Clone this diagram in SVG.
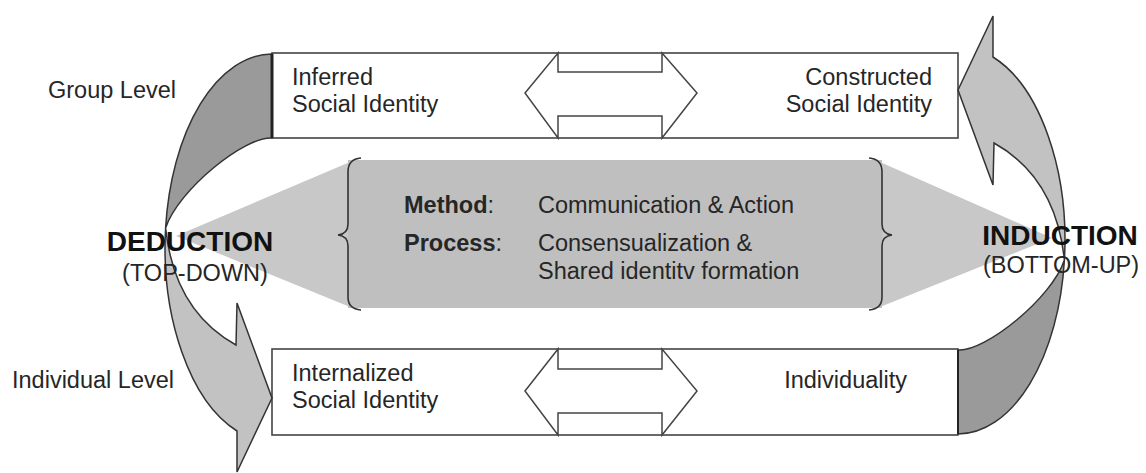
<svg xmlns="http://www.w3.org/2000/svg" width="1146" height="473" viewBox="0 0 1146 473">
<style>
text{font-family:"Liberation Sans",Arial,sans-serif;fill:#262626;font-size:23.5px}
.b{font-weight:bold}
.big{font-weight:bold;font-size:28px;fill:#111}
.box{fill:#fff;stroke:#444;stroke-width:1.6}
.dark{fill:#9a9a9a;stroke:#333;stroke-width:1.5}
.light{fill:#c2c2c2;stroke:#333;stroke-width:1.5}
.dbl{fill:#fff;stroke:#444;stroke-width:1.5;stroke-linejoin:miter}
.tri{fill:#c8c8c8}
.brace{fill:none;stroke:#333;stroke-width:1.6}
</style>
<rect width="1146" height="473" fill="#fff"/>
<g id="process-panel">
<polygon class="tri" points="176,236 350,162 350,307"/>
<polygon class="tri" points="880,162 1052,238 880,307"/>
<rect x="348" y="160" width="534" height="148" fill="#bfbfbf"/>
<path class="brace" d="M361,158 Q348,159 348,172 L348,224 Q348,234 338,235 Q348,236 348,246 L348,297 Q348,309 361,310"/>
<path class="brace" d="M869,158 Q882,159 882,172 L882,224 Q882,234 892,235 Q882,236 882,246 L882,297 Q882,309 869,310"/>
<text class="b" x="404" y="213">Method<tspan font-weight="normal">:</tspan></text>
<text x="538" y="213">Communication &amp; Action</text>
<text class="b" x="404" y="251">Process<tspan font-weight="normal">:</tspan></text>
<text x="538" y="251">Consensualization &amp;</text>
<text x="538" y="279">Shared identitv formation</text>
</g>
<g id="group-level-box">
<rect class="box" x="272" y="53" width="686" height="85"/>
<text x="292" y="85">Inferred</text>
<text x="292" y="112">Social Identity</text>
<text x="932" y="85" text-anchor="end">Constructed</text>
<text x="932" y="112" text-anchor="end">Social Identity</text>
</g>
<g id="individual-level-box">
<rect class="box" x="272" y="349" width="686" height="86"/>
<text x="292" y="381">Internalized</text>
<text x="292" y="408">Social Identity</text>
<text x="907" y="388" text-anchor="end">Individuality</text>
</g>
<g id="connectors">
<g id="deduction-arrow">
<path class="dark" d="M272,54 A107,194 0 0 0 165.6,228 C178,190 245,136 272,138 Z"/>
<path class="light" d="M165.6,228 A107,194 0 0 0 237,431 L237,472 L272,398 L237,303 L236,345 C200,325 172,290 165.6,228 Z"/>
<line x1="272" y1="54" x2="272" y2="138" stroke="#222" stroke-width="3"/>
</g>
<g id="induction-arrow" transform="rotate(180 615 244)">
<path class="dark" d="M272,54 A107,194 0 0 0 165.6,228 C178,190 245,136 272,138 Z"/>
<path class="light" d="M165.6,228 A107,194 0 0 0 237,431 L237,472 L272,398 L237,303 L236,345 C200,325 172,290 165.6,228 Z"/>
<line x1="272" y1="54" x2="272" y2="138" stroke="#222" stroke-width="2"/>
</g>
<polygon class="dbl" points="525,93 558,53 558,72 662,72 662,53 697,93 662,138 662,116 558,116 558,138"/>
<polygon class="dbl" points="525,391 558,349 558,369 662,369 662,349 697,391 662,435 662,413 558,413 558,435"/>
</g>
<g id="labels">
<text x="48" y="98">Group Level</text>
<text x="12" y="388">Individual Level</text>
<text class="big" x="190" y="251" text-anchor="middle">DEDUCTION</text>
<text x="195" y="281" text-anchor="middle">(TOP-DOWN)</text>
<text class="big" x="1060" y="245" text-anchor="middle">INDUCTION</text>
<text x="1061" y="273" text-anchor="middle">(BOTTOM-UP)</text>
</g>
</svg>
